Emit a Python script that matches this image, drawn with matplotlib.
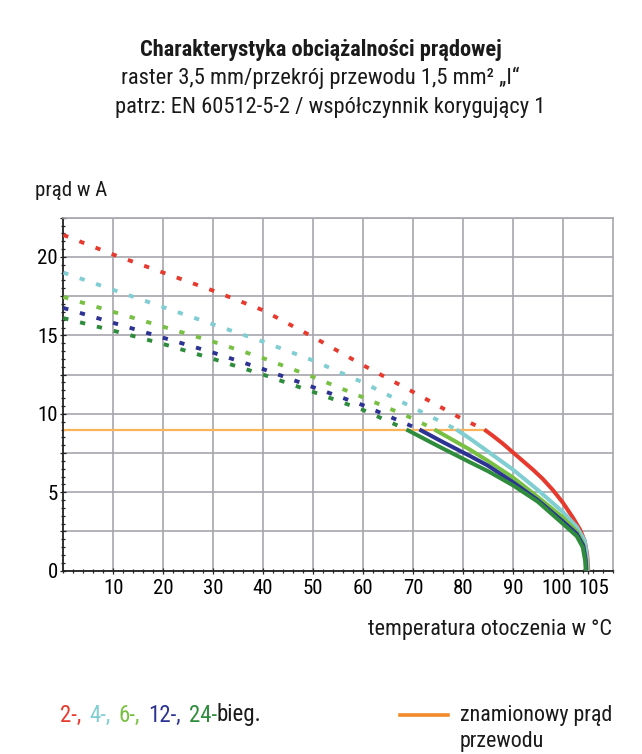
import matplotlib
matplotlib.use('Agg')
import matplotlib.pyplot as plt
import matplotlib.transforms as mtransforms
from matplotlib import font_manager
from matplotlib.ticker import MultipleLocator, FixedLocator, FuncFormatter

# temperature (deg C) and current (A)
red_dash_t = [0, 10, 20, 30, 40, 50, 60, 70, 80, 84.3]
red_dash_i = [21.4, 20.15, 19.0, 17.85, 16.6, 14.9, 13.1, 11.4, 9.65, 9.0]
red_t = [84.3, 86, 88, 90, 92, 94, 96, 98, 100, 102, 103.5, 104.4, 104.9, 105.1]
red_i = [9.0, 8.6, 8.1, 7.55, 7.0, 6.45, 5.85, 5.15, 4.35, 3.4, 2.6, 1.9, 1.0, 0.0]

cyan_dash_t = [0, 10, 20, 30, 40, 50, 60, 70, 78.7]
cyan_dash_i = [19.0, 17.9, 16.8, 15.7, 14.6, 13.4, 12.0, 10.4, 9.0]
cyan_t = [78.7, 81.5, 85, 90, 95, 100, 102.8, 104.4, 104.8, 105.0]
cyan_i = [9.0, 8.4, 7.6, 6.45, 5.15, 3.75, 2.8, 1.9, 1.0, 0.0]

lgreen_dash_t = [0, 10, 20, 30, 40, 50, 60, 70, 74.3]
lgreen_dash_i = [17.45, 16.5, 15.55, 14.6, 13.55, 12.35, 11.05, 9.7, 9.0]
lgreen_t = [74.3, 81.5, 85, 90, 95, 100, 102.8, 104.1, 104.6, 104.8]
lgreen_i = [9.0, 7.7, 7.0, 5.95, 4.7, 3.4, 2.5, 1.7, 0.7, 0.0]

blue_dash_t = [0, 10, 20, 30, 40, 50, 60, 71.3]
blue_dash_i = [16.75, 15.8, 14.85, 13.9, 12.85, 11.7, 10.55, 9.0]
blue_t = [71.3, 76, 81.5, 85, 90, 95, 100, 102.8, 104.1, 104.6, 104.7]
blue_i = [9.0, 8.2, 7.3, 6.7, 5.65, 4.5, 3.15, 2.35, 1.6, 0.65, 0.0]

dgreen_dash_t = [0, 10, 20, 30, 40, 50, 60, 68.7]
dgreen_dash_i = [16.1, 15.3, 14.45, 13.5, 12.5, 11.4, 10.25, 9.0]
dgreen_t = [68.7, 75, 81.5, 85, 90, 95, 100, 102.8, 104.0, 104.5, 104.6]
dgreen_i = [9.0, 7.95, 6.9, 6.35, 5.45, 4.4, 3.0, 2.2, 1.5, 0.6, 0.0]

rated_t = [0, 84.3]
rated_i = [9.0, 9.0]

x_ticks = [10, 20, 30, 40, 50, 60, 70, 80, 90, 100, 105]
legend_parts = ['2-,', '4-,', '6-,', '12-,', '24-', 'bieg.']

RED = '#e63a2e'
CYAN = '#80cdd2'
LGREEN = '#78c043'
BLUE = '#2d3393'
DGREEN = '#2f8c3c'
ORANGE = '#f7b458'
ORANGE_LEG = '#f28a2a'
GRID = '#a6a6ad'
INK = '#1a1a1a'

# prefer a narrow face like the original, if one is installed
names = {f.name for f in font_manager.fontManager.ttflist}
condensed = {f.name for f in font_manager.fontManager.ttflist
             if 'condensed' in str(f.stretch) or 'Narrow' in f.name or 'Condensed' in f.name}
STRETCH = 'normal'
FONT = ['Liberation Sans', 'DejaVu Sans']
NARROW = False
for cand in ['Roboto Condensed', 'Liberation Sans Narrow', 'Open Sans Condensed',
             'Noto Sans Condensed', 'DejaVu Sans Condensed']:
  if cand in names:
    FONT = [cand, 'DejaVu Sans']
    NARROW = True
    break
else:
  for cand in ['Roboto', 'Open Sans', 'Noto Sans', 'DejaVu Sans']:
    if cand in condensed:
      FONT = [cand, 'DejaVu Sans']
      STRETCH = 'condensed'
      NARROW = True
      break
plt.rcParams['font.family'] = FONT
plt.rcParams['font.stretch'] = STRETCH

k = 1.0 if NARROW else 0.9
SIZE = 15 * k
TITLE = 16.2 * k
LEG = 16.5 * k
XLAB = 16 * k

W, H = 642, 754
fig = plt.figure(figsize=(W / 100, H / 100), dpi=100)


def fx(x):
  return x / W


def fy(y):
  return 1 - y / H


left, right, top, bottom = 63.3, 612.7, 217.7, 570.7
ax = fig.add_axes([fx(left), fy(bottom), (right - left) / W, (bottom - top) / H])

ax.plot(rated_t, rated_i, color=ORANGE, lw=1.6, zorder=2)

series = [
  (red_dash_t, red_dash_i, red_t, red_i, RED),
  (cyan_dash_t, cyan_dash_i, cyan_t, cyan_i, CYAN),
  (lgreen_dash_t, lgreen_dash_i, lgreen_t, lgreen_i, LGREEN),
  (blue_dash_t, blue_dash_i, blue_t, blue_i, BLUE),
  (dgreen_dash_t, dgreen_dash_i, dgreen_t, dgreen_i, DGREEN),
]
for dt, di, st, si, col in series:
  ax.plot(dt, di, color=col, lw=2.8, dashes=(1.35, 3.1), zorder=3)
  ax.plot(st, si, color=col, lw=2.9, solid_capstyle='butt', solid_joinstyle='round', zorder=4)

ax.set_xlim(0, 110)
ax.set_ylim(0, 22.5)

ax.xaxis.set_major_locator(FixedLocator(x_ticks))
ax.xaxis.set_minor_locator(MultipleLocator(2))
ax.yaxis.set_major_locator(MultipleLocator(2.5))
ax.yaxis.set_minor_locator(MultipleLocator(0.5))
ax.yaxis.set_major_formatter(FuncFormatter(
  lambda v, p: '%d' % v if abs(v % 5) < 1e-6 and v < 21 else ''))

ax.grid(True, which='major', color=GRID, lw=1.2, zorder=0)
ax.xaxis.get_major_ticks()[-1].gridline.set_visible(False)

ax.tick_params(which='both', direction='inout', color='#222222', width=0.9)
ax.tick_params(which='major', length=4)
ax.tick_params(which='minor', length=2.5)
ax.tick_params(axis='x', labelsize=SIZE, pad=4)
ax.tick_params(axis='y', labelsize=SIZE, pad=2)

# push the two crowded labels at the right end apart
for tick, v in zip(ax.xaxis.get_major_ticks(), x_ticks):
  if v in (100, 105):
    dx = -6 if v == 100 else 6.5
    off = mtransforms.ScaledTranslation(dx / 100, 0, fig.dpi_scale_trans)
    tick.label1.set_transform(tick.label1.get_transform() + off)

for s in ['top', 'right']:
  ax.spines[s].set_color(GRID)
  ax.spines[s].set_linewidth(1.2)
for s in ['left', 'bottom']:
  ax.spines[s].set_color('#222222')
  ax.spines[s].set_linewidth(1.3)

fig.text(fx(321), fy(50), 'Charakterystyka obciążalności prądowej', ha='center', va='center',
         fontsize=TITLE, fontweight='bold', color=INK)
fig.text(fx(320), fy(78), 'raster 3,5 mm/przekrój przewodu 1,5 mm² „I“', ha='center', va='center',
         fontsize=TITLE, color=INK)
fig.text(fx(330), fy(107), 'patrz: EN 60512-5-2 / współczynnik korygujący 1', ha='center',
         va='center', fontsize=TITLE, color=INK)

fig.text(fx(35), fy(190), 'prąd w A', ha='left', va='center', fontsize=SIZE, color=INK)
fig.text(fx(612), fy(630), 'temperatura otoczenia w °C', ha='right', va='center', fontsize=XLAB,
         color=INK)

# coloured legend text, laid out piece by piece
renderer = fig.canvas.get_renderer()
x = 60
for part, col in zip(legend_parts, [RED, CYAN, LGREEN, BLUE, DGREEN, INK]):
  t = fig.text(fx(x), fy(715), part, ha='left', va='center', fontsize=LEG, color=col)
  bb = t.get_window_extent(renderer)
  x += bb.width
  if part.endswith(','):
    x += 8

fig.add_artist(plt.Line2D([fx(400), fx(448)], [fy(715), fy(715)], color=ORANGE_LEG, lw=2.6))
fig.text(fx(460), fy(715), 'znamionowy prąd', ha='left', va='center', fontsize=LEG * 0.96,
         color=INK)
fig.text(fx(460), fy(742), 'przewodu', ha='left', va='center', fontsize=LEG * 0.96, color=INK)

fig.savefig('out.png', dpi=100)
